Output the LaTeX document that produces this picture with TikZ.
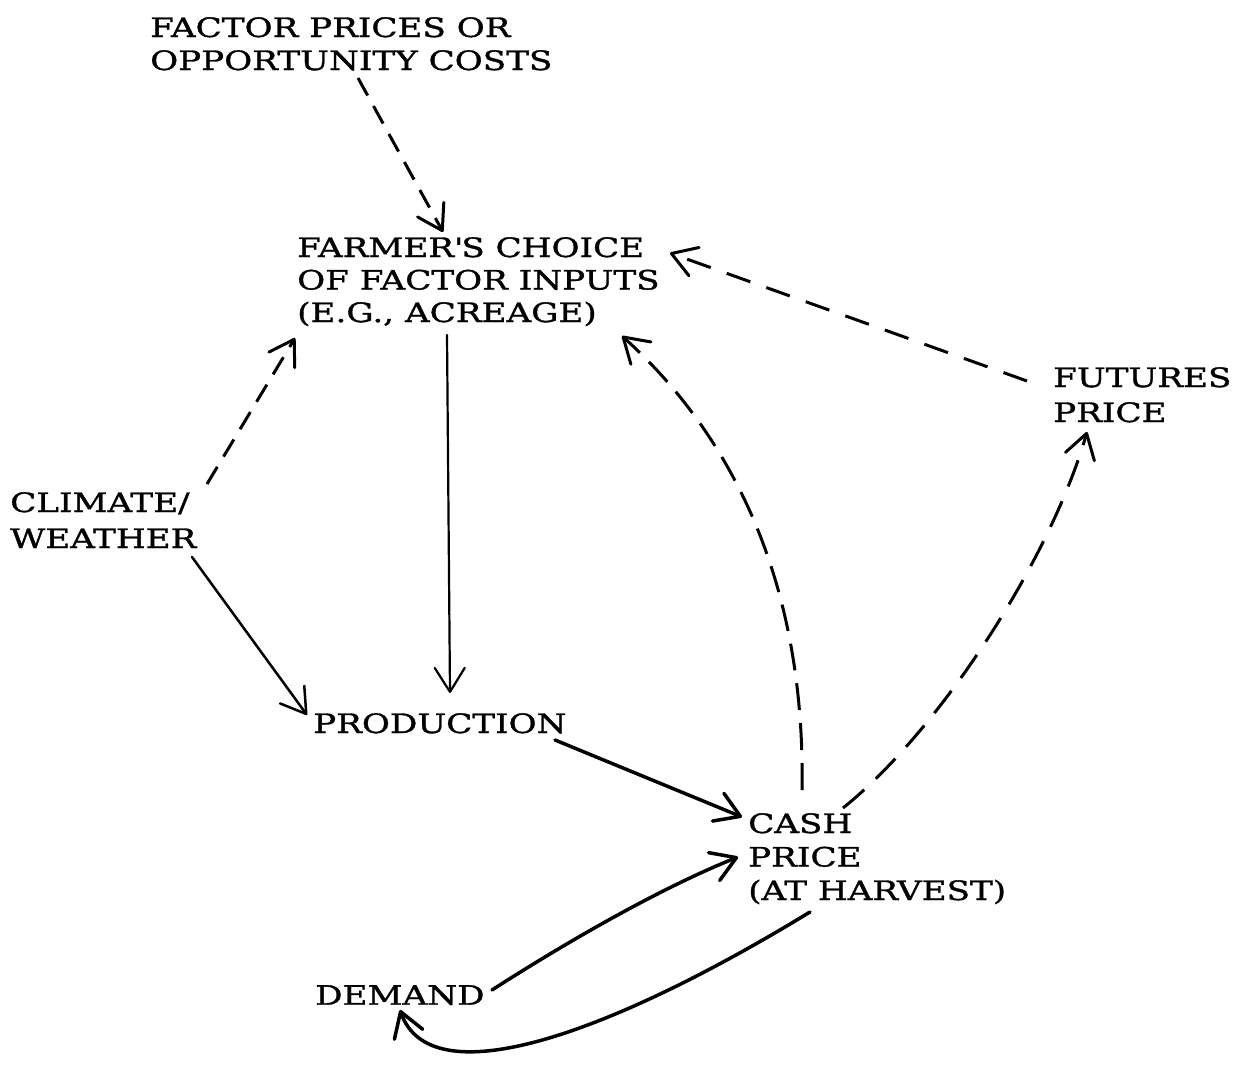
\documentclass[tikz,border=0pt]{standalone}
\usepackage{fontspec}
\newfontfamily\tw{DejaVu Serif}[FakeStretch=1.28,FakeBold=1.2]
\usetikzlibrary{arrows.meta,calc}
\tikzset{
  lbl/.style={anchor=north west, inner sep=0pt, align=left,
    font=\tw\fontsize{26.7pt}{#1}\selectfont},
  lbl/.default=33pt,
  tip/.style={-{Straight Barb[length=24pt,width=30pt,round]}},
  solidln/.style={line width=3pt, tip, line cap=round},
  dashln/.style={line width=3pt, tip, dash pattern=on 24pt off 14pt},
}
\begin{document}
\begin{tikzpicture}[x=1pt,y=-1pt]
\useasboundingbox (0,0) rectangle (1236,1067);
\fill[white] (0,0) rectangle (1236,1067);

\node[lbl] (factor) at (150,17) {FACTOR PRICES OR\\OPPORTUNITY COSTS};
\node[lbl=32.5pt] (farmer) at (297,237) {FARMER\textquotesingle S CHOICE\\OF FACTOR INPUTS\\(E.G., ACREAGE)};
\node[lbl=36pt] (climate) at (10,492) {CLIMATE/\\WEATHER};
\node[lbl=35pt] (futures) at (1053,367) {FUTURES\\PRICE};
\node[lbl] (production) at (313,713) {PRODUCTION};
\node[lbl=33.5pt] (cash) at (748,813) {CASH\\PRICE\\(AT HARVEST)};
\node[lbl] (demand) at (315,985) {DEMAND};

% dashed connectors
\draw[dashln, dash pattern=on 20pt off 12pt]
  ($(factor.north west)+(208,61)$) -- ($(farmer.north west)+(146,-5)$);
\draw[dashln, dash pattern=on 20pt off 12pt]
  ($(climate.north west)+(197,-8)$) -- ($(farmer.north west)+(-2,101)$);
\draw[dashln, dash pattern=on 25pt off 17pt]
  ($(futures.north west)+(-26,14)$) -- ($(farmer.north west)+(373,16)$);
\draw[dashln, dash pattern=on 27pt off 13pt]
  ($(cash.north west)+(54,-23)$) .. controls +(4,-230) and +(93,84) .. ($(farmer.north west)+(325,99)$);
\draw[dashln, dash pattern=on 28pt off 16pt]
  ($(cash.north west)+(95,-5)$) .. controls +(97,-78) and +(-37,128) .. ($(futures.north west)+(34,65)$);

% solid connectors
\draw[solidln, line width=2.5pt]
  ($(climate.north west)+(182,65)$) -- ($(production.north west)+(-6,2)$);
\draw[solidln, line width=2.2pt]
  ($(farmer.north west)+(150,98)$) -- ($(production.north west)+(137,-20)$);
\draw[solidln, line width=3.5pt]
  ($(production.north west)+(242,27)$) -- ($(cash.north west)+(-6,4)$);
\draw[solidln, line width=3.5pt]
  ($(demand.north west)+(177,5)$) .. controls +(70,-45) and +(-80,32) .. ($(cash.north west)+(-10,44)$);
\draw[solidln, line width=3.5pt]
  ($(cash.north west)+(62,99)$) .. controls +(-210,128) and +(30,85) .. ($(demand.north west)+(85,25)$);
\end{tikzpicture}
\end{document}
